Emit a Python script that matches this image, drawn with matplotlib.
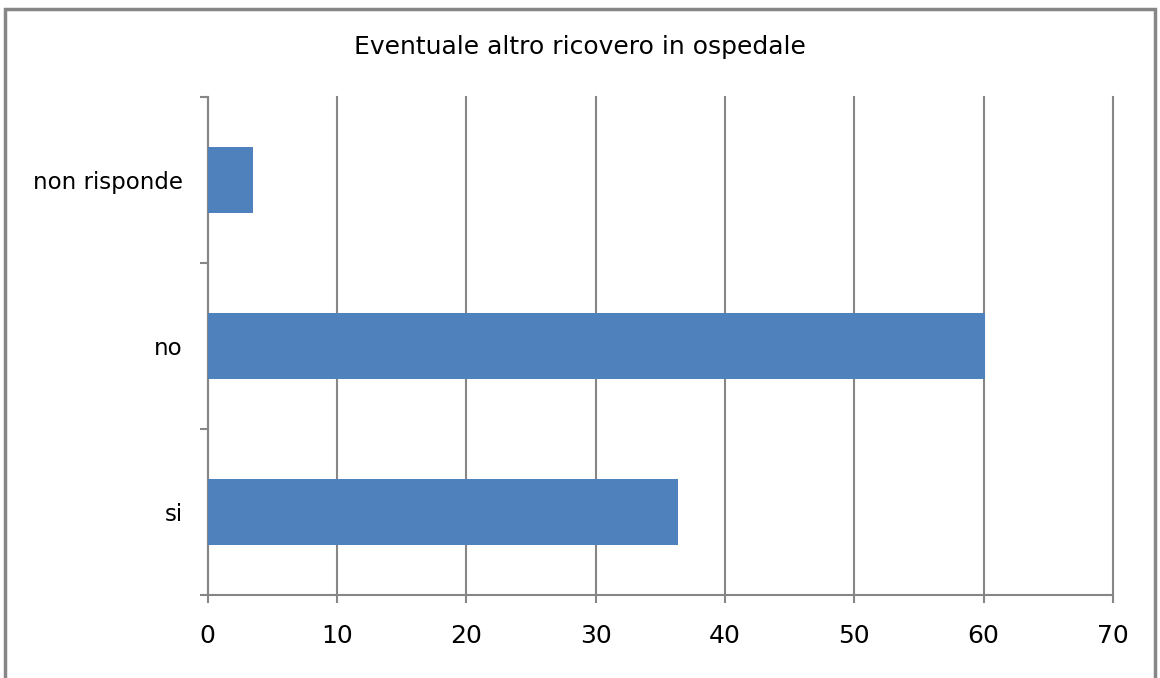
import matplotlib
matplotlib.use("Agg")
import matplotlib.pyplot as plt
from matplotlib.patches import Rectangle
from matplotlib.ticker import FixedLocator, NullFormatter

# risposte alla domanda sul ricovero (valori in %)
categories = ["si", "no", "non risponde"]
values = [36.4, 60.1, 3.5]
x_ticks = [0, 10, 20, 30, 40, 50, 60, 70]
title = "Eventuale altro ricovero in ospedale"

plt.rcParams['font.family'] = ['DejaVu Sans']
grey = "#868686"

fig = plt.figure(figsize=(11.6, 6.78), dpi=100)
ax = fig.add_axes([0.179, 0.1224, 0.9595 - 0.179, 0.8574 - 0.1224])

pos = list(range(len(categories)))
ax.barh(pos, values, height=0.4, color="#4F81BD", zorder=3)

ax.set_xlim(0, 70)
ax.set_ylim(-0.5, len(categories) - 0.5)
ax.set_xticks(x_ticks)
ax.set_xticklabels([str(t) for t in x_ticks], fontsize=18)
ax.xaxis.grid(True, color=grey, linewidth=1.5, zorder=0)
for gl in ax.get_xgridlines():
    gl.set_clip_on(False)

# tick marks on category boundaries, labels at centres
ax.yaxis.set_major_locator(FixedLocator([p - 0.5 for p in pos] + [pos[-1] + 0.5]))
ax.yaxis.set_major_formatter(NullFormatter())
ax.yaxis.set_minor_locator(FixedLocator(pos))
ax.set_yticklabels(categories, minor=True, fontsize=16.5)
ax.tick_params(axis="y", which="minor", length=0, pad=18)
ax.tick_params(axis="y", which="major", length=6, width=1.5, color=grey, direction="out")
ax.tick_params(axis="x", length=6, width=1.5, color=grey, direction="out", pad=15)

for side in ["top", "right"]:
    ax.spines[side].set_visible(False)
for side in ["left", "bottom"]:
    ax.spines[side].set_color(grey)
    ax.spines[side].set_linewidth(1.5)

fig.text(0.5, 1 - 47 / 678, title, ha="center", va="center", fontsize=18)

# chart border (bottom edge runs off the image)
frame = Rectangle((5 / 1160, -0.05), 1150 / 1160, 1.05 - 9 / 678,
                  transform=fig.transFigure, fill=False,
                  edgecolor=grey, linewidth=2.5, clip_on=False)
fig.patches.append(frame)

fig.savefig("out.png", dpi=100)
